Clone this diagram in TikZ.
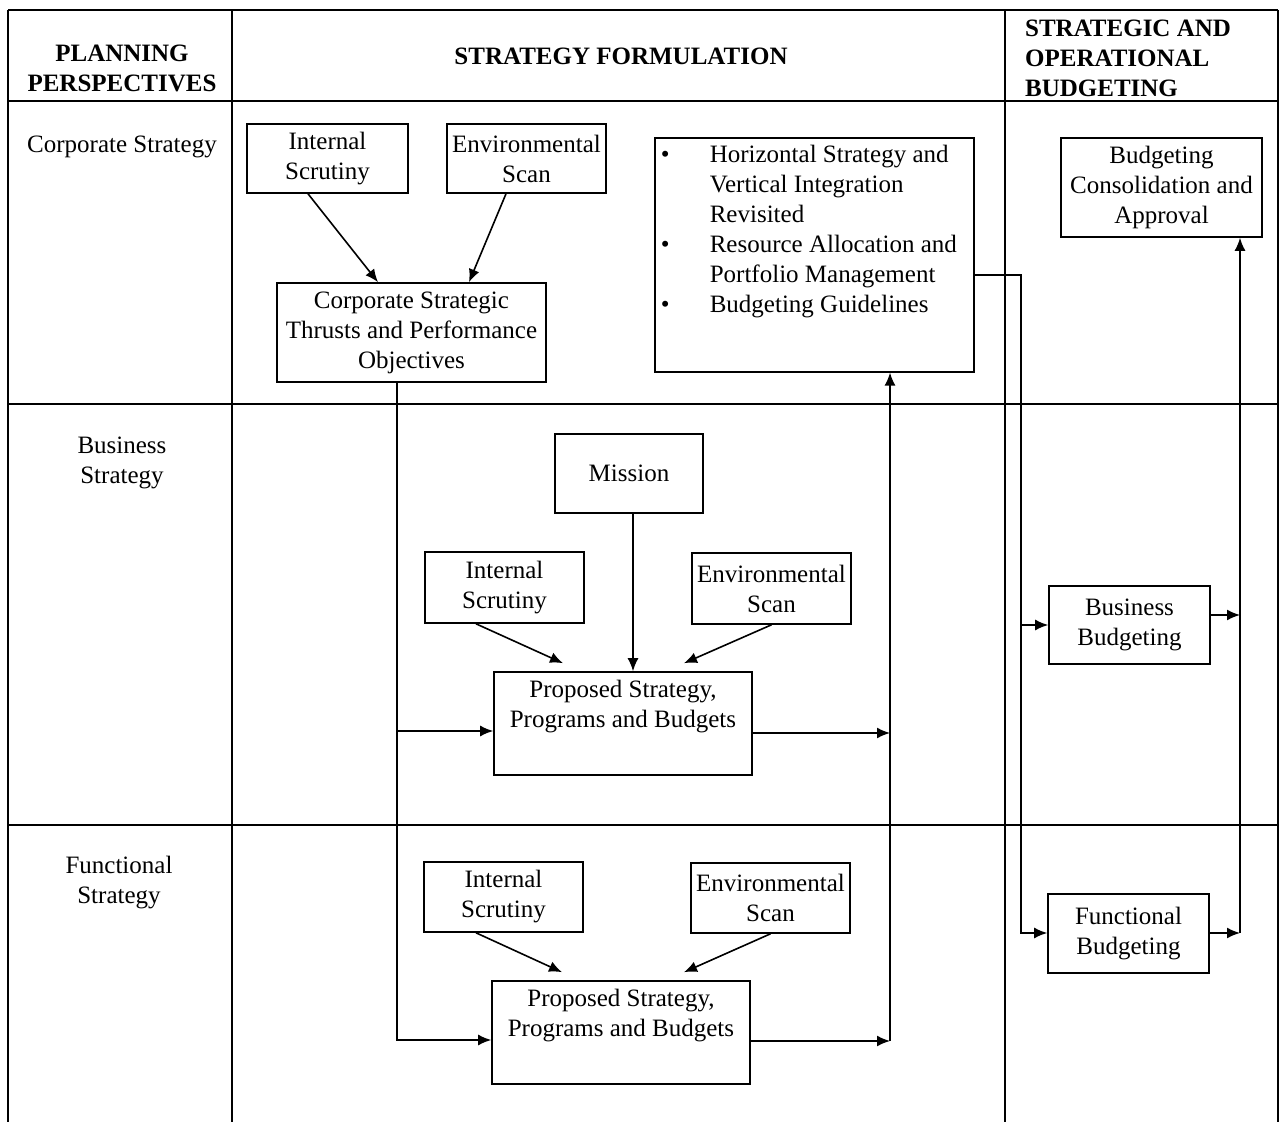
\documentclass[tikz,border=0pt]{standalone}
\usepackage{fontspec}
\setmainfont{Liberation Serif}
\usetikzlibrary{arrows.meta}

\tikzset{
  box/.style={draw, line width=0.8pt, align=center, inner sep=1pt},
  head/.style={font=\bfseries, align=center},
}

\begin{document}
\fontsize{12.5}{15}\selectfont
\begin{tikzpicture}[x=0.5pt, y=-0.5pt, line width=0.8pt, >={Latex[length=6.5pt,width=5.5pt]}]
    \useasboundingbox (0,0) rectangle (1280,1122);
    % frame
    \draw (8,10) -- (1278,10);
    \draw (8,10) -- (8,1122);
    \draw (1278,10) -- (1278,1122);
    \draw (232,10) -- (232,1122);
    \draw (1005,10) -- (1005,1122);
    \draw (8,101) -- (1278,101);
    \draw (8,404) -- (1278,404);
    \draw (8,825) -- (1278,825);
    % headings
    \node[head] (hplan) at (122,68) {PLANNING\\PERSPECTIVES};
    \node[head] (hform) at (621,56) {STRATEGY FORMULATION};
    \node[head, align=left, anchor=west] (hbudg) at (1016,58) {STRATEGIC AND\\OPERATIONAL\\BUDGETING};
    % row labels
    \node (lcorp) at (122,147) {Corporate Strategy};
    \node[align=center] (lbus) at (122,463) {Business\\Strategy};
    \node[align=center] (lfun) at (119,883) {Functional\\Strategy};
    % corporate level
    \node[box, minimum width=80.5pt, minimum height=34.5pt] (is1) at (327.5,158.5) {Internal\\Scrutiny};
    \node[box, minimum width=79.5pt, minimum height=34.5pt] (es1) at (526.5,158.5) {Environmental\\Scan};
    \node[box, minimum width=134.5pt, minimum height=49.5pt] (cst) at (411.5,332.5) {Corporate Strategic\\Thrusts and Performance\\Objectives};
    \node[draw, line width=0.8pt, inner sep=0pt, anchor=north west] (hsv) at (654,137) {\parbox[t][117pt][t]{159.5pt}{\vspace*{2pt}%
      \begin{tabular}{@{\hspace{3pt}}p{24.5pt}@{}l@{}}
        \textbullet & Horizontal Strategy and\\
                    & Vertical Integration\\
                    & Revisited\\
        \textbullet & Resource Allocation and\\
                    & Portfolio Management\\
        \textbullet & Budgeting Guidelines
      \end{tabular}}};
    \node[box, minimum width=100.5pt, minimum height=49.5pt] (bca) at (1161.5,187.5) {Budgeting\\Consolidation and\\Approval};
    % business level
    \node[box, minimum width=74pt, minimum height=39.5pt] (mission) at (629,473.5) {\raisebox{-4pt}{Mission}};
    \node[box, minimum width=79.5pt, minimum height=35.5pt] (is2) at (504.5,587.5) {Internal\\Scrutiny};
    \node[box, minimum width=79.5pt, minimum height=35.5pt] (es2) at (771.5,588.5) {Environmental\\Scan};
    \node[box, minimum width=129pt, minimum height=51.5pt] (psb2) at (623,723.5) {Proposed Strategy,\\Programs and Budgets\\\strut};
    \node[box, minimum width=80.5pt, minimum height=39pt] (bb) at (1129.5,625) {Business\\Budgeting};
    % functional level
    \node[box, minimum width=79.5pt, minimum height=35pt] (is3) at (503.5,897) {Internal\\Scrutiny};
    \node[box, minimum width=79.5pt, minimum height=35pt] (es3) at (770.5,898) {Environmental\\Scan};
    \node[box, minimum width=129pt, minimum height=51.5pt] (psb3) at (621,1032.5) {Proposed Strategy,\\Programs and Budgets\\\strut};
    \node[box, minimum width=80.5pt, minimum height=39.5pt] (fb) at (1128.5,933.5) {Functional\\Budgeting};
    % scans into strategies
    \draw[->] ([xshift=-9.75pt]is1.south) -- ([xshift=-16.75pt]cst.north);
    \draw[->] ([xshift=-10.25pt]es1.south) -- ([xshift=28.75pt]cst.north);
    \draw[->] (mission.south -| 633,0) -- (psb2.north -| 633,0);
    \draw[->] ([xshift=-14.25pt]is2.south) -- ([xshift=-30pt,yshift=4pt]psb2.north);
    \draw[->] (es2.south) -- ([xshift=30.5pt,yshift=4pt]psb2.north);
    \draw[->] ([xshift=-13.75pt]is3.south) -- ([xshift=-29.5pt,yshift=4pt]psb3.north);
    \draw[->] (es3.south) -- ([xshift=31.5pt,yshift=4pt]psb3.north);
    % corporate thrusts down to business and functional
    \coordinate (cl) at (397,731);
    \coordinate (cb) at (397,1040);
    \draw[->] (cst.south -| cb) -- (cb) -- (psb3.west |- cb);
    \draw[->] (cl) -- (psb2.west |- cl);
    % proposals back up to corporate
    \coordinate (rm) at (890,733);
    \coordinate (rb) at (890,1041);
    \draw[->] (psb3.east |- rb) -- (rb);
    \draw[->] (rb) -- (hsv.south -| rb);
    \draw[->] (psb2.east |- rm) -- (rm);
    % guidelines to budgeting
    \coordinate (hb) at (1021,275);
    \coordinate (hf) at (1021,933);
    \draw[->] (hsv.east |- hb) -- (hb) -- (hf) -- (fb.west |- hf);
    \draw[->] (hb |- bb.west) -- (bb.west);
    % budgets to consolidation
    \coordinate (bm) at (1240,615);
    \coordinate (bt) at (1240,933);
    \draw[->] (fb.east |- bt) -- (bt);
    \draw[->] (bt) -- (bca.south -| bt);
    \draw[->] (bb.east |- bm) -- (bm);
\end{tikzpicture}
\end{document}
